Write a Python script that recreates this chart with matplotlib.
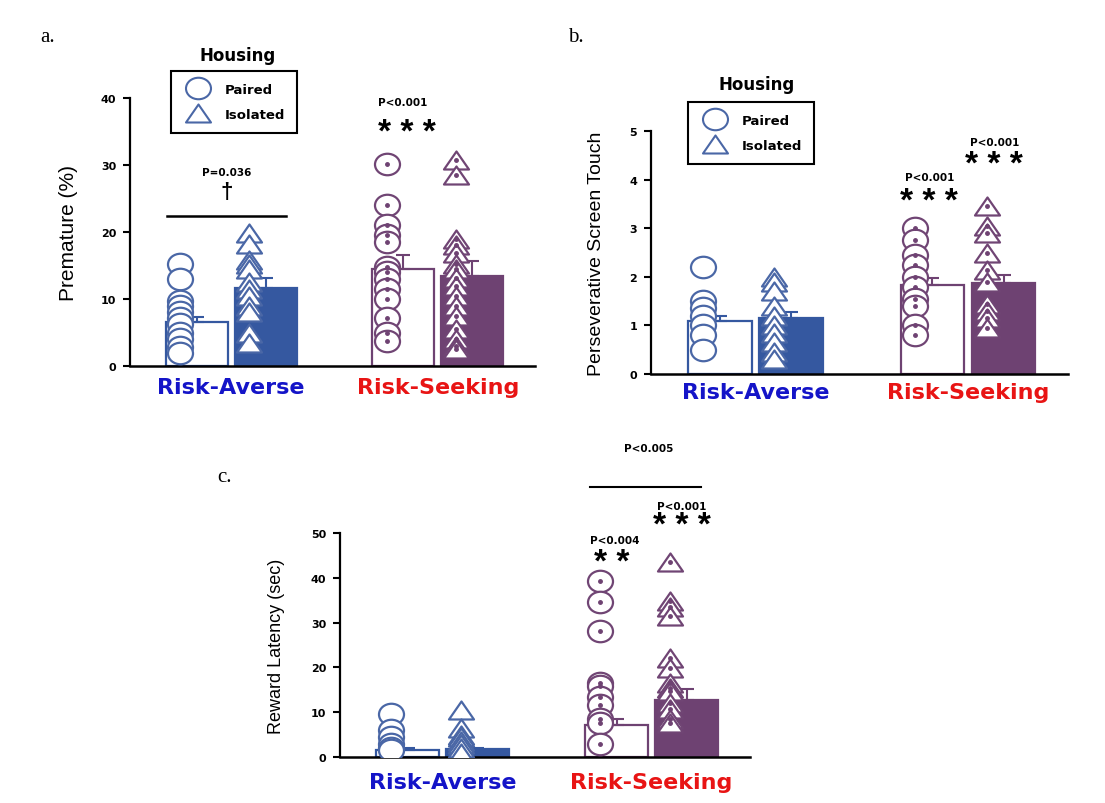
import numpy as np
import matplotlib
matplotlib.use("Agg")
import matplotlib.pyplot as plt
from matplotlib.path import Path
from matplotlib.transforms import Affine2D
from matplotlib.lines import Line2D

plt.rcParams["font.family"] = "Liberation Sans"

groups = ["Risk-Averse", "Risk-Seeking"]

# a. premature responses (%)
prem_paired_mean = [6.5, 14.5]
prem_isolated_mean = [11.7, 13.5]
prem_paired_sem = [0.8, 2.1]
prem_isolated_sem = [1.4, 2.2]
prem_paired_ra = [15.2, 13.0, 9.7, 8.9, 8.0, 7.2, 6.2, 5.0, 4.0, 2.8, 2.0]
prem_isolated_ra = [19.8, 18.2, 15.8, 15.2, 14.5, 12.5, 11.5, 10.5, 9.0, 8.0, 5.0, 3.5]
prem_paired_rs = [30.2, 24.0, 21.0, 19.5, 18.5, 14.8, 14.0, 13.0, 11.5, 10.0, 7.2, 5.0, 3.8]
prem_isolated_rs = [30.8, 28.5, 19.0, 18.0, 16.8, 15.2, 14.5, 13.2, 12.0, 10.5, 9.0, 7.5, 5.5, 4.0, 3.0, 2.5]

# b. perseverative screen touches
pers_paired_mean = [1.10, 1.83]
pers_isolated_mean = [1.16, 1.88]
pers_paired_sem = [0.10, 0.14]
pers_isolated_sem = [0.11, 0.15]
pers_paired_ra = [2.2, 1.5, 1.35, 1.2, 1.0, 0.8, 0.5]
pers_isolated_ra = [2.0, 1.9, 1.7, 1.4, 1.2, 1.0, 0.85, 0.65, 0.45, 0.3]
pers_paired_rs = [3.0, 2.75, 2.45, 2.25, 2.0, 1.8, 1.55, 1.4, 1.0, 0.8]
pers_isolated_rs = [3.45, 3.05, 2.9, 2.5, 2.15, 1.9, 1.45, 1.3, 1.15, 0.95]

# c. reward latency (sec)
lat_paired_mean = [1.6, 7.1]
lat_isolated_mean = [1.7, 12.8]
lat_paired_sem = [0.3, 1.3]
lat_isolated_sem = [0.3, 2.3]
lat_paired_ra = [9.5, 6.0, 4.5, 3.0, 2.0, 1.5]
lat_isolated_ra = [10.5, 6.5, 5.0, 4.5, 3.5, 3.0, 2.0, 1.0]
lat_paired_rs = [39.3, 34.5, 28.2, 16.5, 15.8, 13.5, 11.5, 8.5, 7.7, 2.8]
lat_isolated_rs = [43.5, 34.8, 33.5, 31.5, 22.0, 19.8, 16.6, 15.5, 14.8, 12.0, 10.7, 8.5, 7.5]

BLUE = "#3558a0"
BLUE_EDGE = "#4a67a6"
PURPLE = "#6e4272"
PURPLE_EDGE = "#704574"
TXT_BLUE = "#1414c8"
TXT_RED = "#e81414"

# slightly flattened markers like the original
ell = Path.unit_circle().transformed(Affine2D().scale(1, 0.86))
tri = Path([(-1, -0.72), (1, -0.72), (0, 0.72), (-1, -0.72)],
           [Path.MOVETO, Path.LINETO, Path.LINETO, Path.CLOSEPOLY])

W = 0.30
OFF = 0.167
DX = -0.08


def draw_panel(ax, pm, im, ps, isem, pts, ymax, ystep, ylabel, lab_size, lab_x, xpad):
    x = np.arange(2)
    cols = [BLUE, PURPLE]
    edges = [BLUE_EDGE, PURPLE_EDGE]
    for i in range(2):
        c = cols[i]
        ax.bar(x[i] - OFF, pm[i], W, facecolor="white", edgecolor=c, lw=1.6, zorder=2)
        ax.bar(x[i] + OFF, im[i], W, facecolor=c, edgecolor=c, lw=1.6, zorder=2)
        ax.errorbar(x[i] - OFF, pm[i], yerr=[[0], [ps[i]]], color=c, capsize=5,
                    elinewidth=1.5, capthick=1.5, zorder=2.5)
        ax.errorbar(x[i] + OFF, im[i], yerr=[[0], [isem[i]]], color=c, capsize=5,
                    elinewidth=1.5, capthick=1.5, zorder=2.5)
        p, q = pts[i]
        xp = np.full(len(p), x[i] - OFF + DX)
        xq = np.full(len(q), x[i] + OFF + DX)
        ax.plot(xp, p, ls="none", marker=ell, ms=18, mfc="white", mec=edges[i], mew=1.6, zorder=3)
        ax.plot(xq, q, ls="none", marker=tri, ms=18, mfc="white", mec=edges[i], mew=1.6, zorder=3)
        if i == 1:
            ax.plot(xp, p, ls="none", marker="o", ms=2.5, color=PURPLE, zorder=4)
            ax.plot(xq, q, ls="none", marker="o", ms=2.5, color=PURPLE, zorder=4)

    ax.set_xlim(-0.49, 1.47)
    ax.set_ylim(0, ymax)
    ax.set_yticks(np.arange(0, ymax + ystep / 2, ystep))
    ax.spines["top"].set_visible(False)
    ax.spines["right"].set_visible(False)
    ax.spines["left"].set_linewidth(1.6)
    ax.spines["bottom"].set_linewidth(1.8)
    ax.tick_params(axis="y", direction="out", length=5, width=1.5, labelsize=8, pad=5)
    for t in ax.get_yticklabels():
        t.set_fontweight("bold")
        t.set_fontfamily("DejaVu Sans")
    ax.set_xticks(x, groups)
    ax.tick_params(axis="x", length=0, pad=xpad)
    for t, c in zip(ax.get_xticklabels(), [TXT_BLUE, TXT_RED]):
        t.set_color(c)
        t.set_fontfamily("DejaVu Sans")
        t.set_fontweight("bold")
        t.set_fontsize(16)
    ax.set_ylabel(ylabel, fontsize=lab_size)
    ax.yaxis.set_label_coords(lab_x, 0.5)


def stars(ax, x, y, s):
    ax.text(x, y, s, ha="center", va="center", fontsize=24, fontweight="bold", clip_on=False)


def ptext(ax, x, y, s):
    ax.text(x, y, s, ha="center", va="center", fontsize=7.5, fontweight="bold",
            family="DejaVu Sans", clip_on=False)


def housing_legend(fig, ax, title_xy, box_xy):
    fig.text(title_xy[0] / 1105, 1 - title_xy[1] / 804, "Housing", ha="center", va="center",
             fontsize=12, fontweight="bold", family="DejaVu Sans")
    handles = [
        Line2D([], [], ls="none", marker=ell, ms=18, mfc="white", mec=BLUE_EDGE, mew=1.5),
        Line2D([], [], ls="none", marker=tri, ms=18, mfc="white", mec=BLUE_EDGE, mew=1.5),
    ]
    leg = ax.legend(handles, ["Paired", "Isolated"], loc="upper left",
                    bbox_to_anchor=(box_xy[0] / 1105, 1 - box_xy[1] / 804),
                    bbox_transform=fig.transFigure, borderaxespad=0, fancybox=False,
                    edgecolor="black", framealpha=1, borderpad=0.9, handlelength=2.3,
                    handletextpad=0.9, labelspacing=0.9,
                    prop={"family": "DejaVu Sans", "weight": "bold", "size": 9.5})
    leg.get_frame().set_linewidth(1.5)


fig = plt.figure(figsize=(11.05, 8.04), dpi=100)

ax_a = fig.add_axes([130 / 1105, 437 / 804, 405 / 1105, 268 / 804])
ax_b = fig.add_axes([651 / 1105, 429 / 804, 417 / 1105, 243 / 804])
ax_c = fig.add_axes([340 / 1105, 46 / 804, 410 / 1105, 224 / 804])

draw_panel(ax_a, prem_paired_mean, prem_isolated_mean, prem_paired_sem, prem_isolated_sem,
           [(prem_paired_ra, prem_isolated_ra), (prem_paired_rs, prem_isolated_rs)],
           40, 10, "Premature (%)", 15, -0.128, 8)
draw_panel(ax_b, pers_paired_mean, pers_isolated_mean, pers_paired_sem, pers_isolated_sem,
           [(pers_paired_ra, pers_isolated_ra), (pers_paired_rs, pers_isolated_rs)],
           5, 1, "Perseverative Screen Touch", 14, -0.110, 6)
draw_panel(ax_c, lat_paired_mean, lat_isolated_mean, lat_paired_sem, lat_isolated_sem,
           [(lat_paired_ra, lat_isolated_ra), (lat_paired_rs, lat_isolated_rs)],
           50, 10, "Reward Latency (sec)", 13, -0.134, 11)

# panel a annotations
ax_a.plot([-0.31, 0.266], [22.4, 22.4], color="black", lw=1.8, clip_on=False)
ptext(ax_a, -0.02, 29.0, "P=0.036")
ax_a.text(-0.02, 26.0, "\u2020", ha="center", va="center", fontsize=16, fontweight="bold")
ptext(ax_a, 0.83, 39.4, "P<0.001")
stars(ax_a, 0.85, 34.9, "* * *")

# panel b annotations
ptext(ax_b, 0.819, 4.05, "P<0.001")
stars(ax_b, 0.815, 3.54, "* * *")
ptext(ax_b, 1.124, 4.77, "P<0.001")
stars(ax_b, 1.124, 4.32, "* * *")

# panel c annotations
ptext(ax_c, 0.986, 69.0, "P<0.005")
ax_c.plot([0.703, 1.235], [60.3, 60.3], color="black", lw=1.5, clip_on=False)
ptext(ax_c, 1.144, 56.0, "P<0.001")
stars(ax_c, 1.144, 51.6, "* * *")
ptext(ax_c, 0.823, 48.4, "P<0.004")
stars(ax_c, 0.808, 43.5, "* *")

housing_legend(fig, ax_a, (238, 56), (171, 72))
housing_legend(fig, ax_b, (757, 85), (688, 103))

fig.text(40 / 1105, 1 - 37 / 804, "a.", fontsize=15, family="Liberation Serif", va="center")
fig.text(568 / 1105, 1 - 37 / 804, "b.", fontsize=15, family="Liberation Serif", va="center")
fig.text(217 / 1105, 1 - 478 / 804, "c.", fontsize=15, family="Liberation Serif", va="center")

fig.savefig("out.png", dpi=100)
